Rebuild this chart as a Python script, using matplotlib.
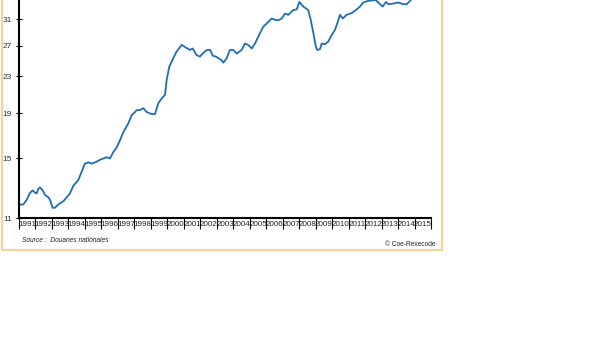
import matplotlib
matplotlib.use("Agg")
import matplotlib.pyplot as plt
from matplotlib.patches import Rectangle
from matplotlib.ticker import FixedLocator, NullFormatter, FixedFormatter, NullLocator

# --- data (decimal year, value) ---
years = [1991.06, 1991.26, 1991.47, 1991.67, 1991.83, 1991.97, 1992.07, 1992.17, 1992.27, 1992.44,
         1992.58, 1992.78, 1992.88, 1993.04, 1993.18, 1993.38, 1993.69, 1993.89, 1994.09, 1994.29,
         1994.60, 1994.80, 1995.00, 1995.21, 1995.41, 1995.71, 1995.92, 1996.12, 1996.32, 1996.52,
         1996.72, 1996.93, 1997.13, 1997.33, 1997.63, 1997.84, 1998.04, 1998.14, 1998.34, 1998.54,
         1998.75, 1999.05, 1999.25, 1999.45, 1999.66, 1999.86, 1999.96, 2000.12, 2000.36, 2000.57,
         2000.87, 2001.07, 2001.38, 2001.54, 2001.78, 2001.98, 2002.18, 2002.41, 2002.59, 2002.77,
         2002.95, 2003.09, 2003.30, 2003.40, 2003.60, 2003.80, 2004.00, 2004.21, 2004.51, 2004.71,
         2004.91, 2005.12, 2005.32, 2005.52, 2005.82, 2006.03, 2006.33, 2006.53, 2006.73, 2006.94,
         2007.14, 2007.34, 2007.64, 2007.85, 2008.01, 2008.25, 2008.55, 2008.70, 2008.86, 2009.02,
         2009.10, 2009.26, 2009.37, 2009.57, 2009.77, 2009.97, 2010.17, 2010.31, 2010.48, 2010.64,
         2010.88, 2011.19, 2011.45, 2011.69, 2011.89, 2012.20, 2012.50, 2012.66, 2012.91, 2013.07,
         2013.27, 2013.41, 2013.69, 2014.02, 2014.32, 2014.53, 2014.79, 2014.91]
values = [11.8, 11.8, 12.1, 12.55, 12.7, 12.55, 12.5, 12.8, 12.9, 12.7,
          12.4, 12.25, 12.1, 11.6, 11.6, 11.8, 12.0, 12.25, 12.5, 13.0,
          13.4, 14.0, 14.6, 14.7, 14.6, 14.75, 14.9, 15.0, 15.1, 15.0,
          15.5, 15.9, 16.5, 17.2, 18.0, 18.8, 19.1, 19.3, 19.3, 19.5,
          19.1, 18.9, 18.9, 20.0, 20.5, 20.9, 22.6, 24.2, 25.3, 26.2,
          27.1, 26.8, 26.4, 26.6, 25.7, 25.5, 26.0, 26.4, 26.4, 25.6,
          25.5, 25.3, 25.0, 24.7, 25.3, 26.4, 26.4, 25.9, 26.4, 27.3,
          27.1, 26.6, 27.3, 28.3, 29.8, 30.3, 31.1, 30.9, 30.8, 31.1,
          31.9, 31.7, 32.5, 32.6, 33.9, 33.1, 32.5, 30.9, 28.8, 26.8,
          26.4, 26.5, 27.3, 27.2, 27.6, 28.5, 29.3, 30.3, 31.7, 31.1,
          31.7, 32.0, 32.5, 33.1, 33.8, 34.1, 34.2, 34.2, 33.5, 33.1,
          33.9, 33.5, 33.6, 33.8, 33.5, 33.5, 34.3, 35.0]
year_labels = [str(y) for y in range(1991, 2016)]
y_ticks = [11, 15, 19, 23, 27, 31]

plt.rcParams["font.family"] = ["Liberation Sans", "DejaVu Sans"]

W, H = 616, 346
fig = plt.figure(figsize=(W / 100, H / 100), dpi=100)
fig.patch.set_facecolor("white")

# orange frame (top cut off)
fig.patches.append(Rectangle((2 / W, (H - 250) / H), 440 / W, 1.2,
                             transform=fig.transFigure, fill=False,
                             edgecolor="#f5d49c", linewidth=1.6, clip_on=False))

left, right = 19 / W, 431 / W
bottom = (H - 218) / H
top = (H + 9.6) / H
ax = fig.add_axes([left, bottom, right - left, top - bottom])
ax.set_facecolor("white")

ax.plot(years, values, color="#1f6db3", linewidth=1.3, clip_on=False)

ax.set_yscale("log")
ax.set_ylim(11, 36)
ax.set_xlim(1991, 2016)

ax.yaxis.set_major_locator(FixedLocator(y_ticks))
ax.yaxis.set_major_formatter(FixedFormatter([str(t) for t in y_ticks]))
ax.yaxis.set_minor_locator(NullLocator())
ax.yaxis.set_minor_formatter(NullFormatter())
ax.tick_params(axis="y", which="major", direction="inout", length=4, width=0.8,
               labelsize=6, labelcolor="#333333", pad=3)

ax.xaxis.set_major_locator(FixedLocator(list(range(1991, 2017))))
ax.xaxis.set_major_formatter(NullFormatter())
ax.xaxis.set_minor_locator(FixedLocator([y + 0.5 for y in range(1991, 2016)]))
ax.xaxis.set_minor_formatter(FixedFormatter(year_labels))
ax.tick_params(axis="x", which="major", direction="out", length=8, width=0.8)
ax.tick_params(axis="x", which="minor", length=0, labelsize=5.8,
               labelcolor="#222222", pad=2)
for lab in ax.xaxis.get_minorticklabels():
    lab.set_family(["Liberation Sans Narrow", "Liberation Sans"])

for s in ("top", "right"):
    ax.spines[s].set_visible(False)
ax.spines["left"].set_linewidth(1.5)
ax.spines["bottom"].set_linewidth(1.5)

fig.text(22 / W, (H - 240) / H, "Source :  Douanes nationales", fontsize=4.8,
         style="italic", color="#222222", ha="left", va="center")
fig.text(435 / W, (H - 244) / H, "© Coe-Rexecode", fontsize=4.8,
         color="#222222", ha="right", va="center")

fig.savefig("out.png", dpi=100, facecolor="white")
